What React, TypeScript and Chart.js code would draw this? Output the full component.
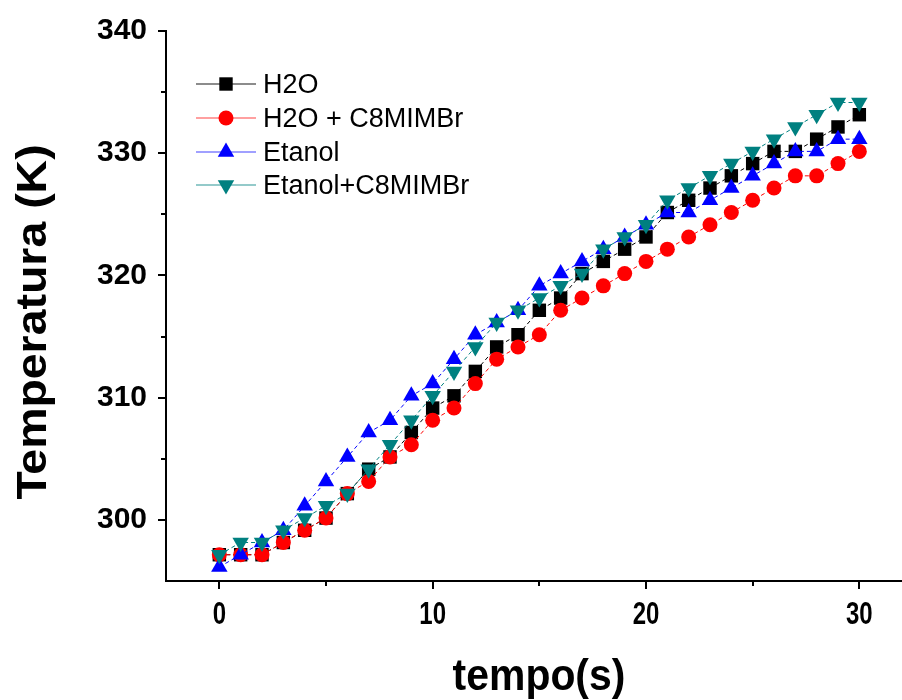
import React, { useEffect, useRef } from 'react';
import { Chart, registerables } from 'chart.js';

Chart.register(...registerables);

const tempo = [0, 1, 2, 3, 4, 5, 6, 7, 8, 9, 10, 11, 12, 13, 14, 15, 16, 17, 18, 19, 20, 21, 22, 23, 24, 25, 26, 27, 28, 29, 30];
const h2o = [297.15, 297.15, 297.15, 298.15, 299.15, 300.15, 302.15, 304.15, 305.15, 307.15, 309.15, 310.15, 312.15, 314.15, 315.15, 317.15, 318.15, 320.15, 321.15, 322.15, 323.15, 325.15, 326.15, 327.15, 328.15, 329.15, 330.15, 330.15, 331.15, 332.15, 333.15];
const h2oIL = [297.15, 297.15, 297.15, 298.15, 299.15, 300.15, 302.15, 303.15, 305.15, 306.15, 308.15, 309.15, 311.15, 313.15, 314.15, 315.15, 317.15, 318.15, 319.15, 320.15, 321.15, 322.15, 323.15, 324.15, 325.15, 326.15, 327.15, 328.15, 328.15, 329.15, 330.15];
const etanol = [296.15, 297.15, 298.15, 299.15, 301.15, 303.15, 305.15, 307.15, 308.15, 310.15, 311.15, 313.15, 315.15, 316.15, 317.15, 319.15, 320.15, 321.15, 322.15, 323.15, 324.15, 325.15, 325.15, 326.15, 327.15, 328.15, 329.15, 330.15, 330.15, 331.15, 331.15];
const etanolIL = [297.15, 298.15, 298.15, 299.15, 300.15, 301.15, 302.15, 304.15, 306.15, 308.15, 310.15, 312.15, 314.15, 316.15, 317.15, 318.15, 319.15, 320.15, 322.15, 323.15, 324.15, 326.15, 327.15, 328.15, 329.15, 330.15, 331.15, 332.15, 333.15, 334.15, 334.15];

const xMajor = [0, 10, 20, 30];
const xMinor = [5, 15, 25];
const yMajor = [300, 310, 320, 330, 340];
const yMinor = [305, 315, 325, 335];

const seriesNames = ['H2O', 'H2O + C8MIMBr', 'Etanol', 'Etanol+C8MIMBr'];
const seriesColors = ['#000000', '#ff0000', '#0000ff', '#008080'];
const legendLineColors = ['#666666', '#ff8080', '#8080ff', '#70b8b8'];
const seriesStyles = ['rect', 'circle', 'triangle', 'triangle'];

const FONT = "'Liberation Sans', Arial, sans-serif";

function drawMarker(ctx: CanvasRenderingContext2D, kind: number, x: number, y: number, color: string) {
  ctx.save();
  ctx.fillStyle = color;
  ctx.beginPath();
  if (kind === 0) {
    ctx.rect(x - 6.7, y - 6.7, 13.4, 13.4);
  } else if (kind === 1) {
    ctx.arc(x, y, 7.5, 0, Math.PI * 2);
  } else if (kind === 2) {
    const r = 9.5;
    ctx.moveTo(x, y - r);
    ctx.lineTo(x + r * 0.866, y + r * 0.5);
    ctx.lineTo(x - r * 0.866, y + r * 0.5);
    ctx.closePath();
  } else {
    const r = 9.5;
    ctx.moveTo(x, y + r);
    ctx.lineTo(x + r * 0.866, y - r * 0.5);
    ctx.lineTo(x - r * 0.866, y - r * 0.5);
    ctx.closePath();
  }
  ctx.fill();
  ctx.restore();
}

const decorPlugin = {
  id: 'decor',
  afterDraw(chart: any) {
    const ctx: CanvasRenderingContext2D = chart.ctx;
    const xs = chart.scales.x;
    const ys = chart.scales.y;
    const area = chart.chartArea;
    ctx.save();
    ctx.strokeStyle = '#000';
    ctx.lineWidth = 2;
    const drawX = (v: number, len: number) => {
      const px = Math.round(xs.getPixelForValue(v));
      ctx.beginPath();
      ctx.moveTo(px, area.bottom);
      ctx.lineTo(px, area.bottom + len);
      ctx.stroke();
    };
    xMajor.forEach((v) => drawX(v, 8));
    xMinor.forEach((v) => drawX(v, 5));
    const drawY = (v: number, len: number) => {
      const py = Math.round(ys.getPixelForValue(v));
      ctx.beginPath();
      ctx.moveTo(area.left, py);
      ctx.lineTo(area.left - len, py);
      ctx.stroke();
    };
    yMajor.forEach((v) => drawY(v, 8));
    yMinor.forEach((v) => drawY(v, 5));

    ctx.fillStyle = '#000';
    ctx.font = `bold 30px ${FONT}`;
    ctx.textAlign = 'center';
    ctx.textBaseline = 'alphabetic';
    xMajor.forEach((v) => {
      const px = xs.getPixelForValue(v);
      ctx.save();
      ctx.translate(px, 624);
      ctx.scale(0.8, 1.03);
      ctx.fillText(String(v), 0, 0);
      ctx.restore();
    });

    ctx.save();
    ctx.translate(539, 690);
    ctx.scale(0.93, 1);
    ctx.font = `bold 44px ${FONT}`;
    ctx.fillText('tempo(s)', 0, 0);
    ctx.restore();

    ctx.save();
    ctx.translate(46, 322);
    ctx.rotate(-Math.PI / 2);
    ctx.scale(1.08, 1);
    ctx.font = `bold 43px ${FONT}`;
    ctx.fillText('Temperatura (K)', 0, 0);
    ctx.restore();

    const rows = [84, 118, 152, 185];
    ctx.font = `27px ${FONT}`;
    ctx.textAlign = 'left';
    rows.forEach((ry, i) => {
      ctx.strokeStyle = legendLineColors[i];
      ctx.lineWidth = 1.5;
      ctx.beginPath();
      ctx.moveTo(196, ry);
      ctx.lineTo(256, ry);
      ctx.stroke();
      drawMarker(ctx, i, 226, ry, seriesColors[i]);
      ctx.fillStyle = '#000';
      ctx.fillText(seriesNames[i], 263, ry + 9);
    });
    ctx.restore();
  },
};

export default function App() {
  const ref = useRef<HTMLCanvasElement | null>(null);
  useEffect(() => {
    if (!ref.current) return;
    const all = [h2o, h2oIL, etanol, etanolIL];
    const datasets = all.map((vals, i) => ({
      label: seriesNames[i],
      data: tempo.map((t, j) => ({ x: t, y: vals[j] })),
      borderColor: seriesColors[i],
      backgroundColor: seriesColors[i],
      borderWidth: 1,
      borderDash: [4, 3],
      pointStyle: seriesStyles[i],
      pointRadius: i === 1 ? 7.5 : 9.5,
      pointRotation: i === 3 ? 180 : 0,
      pointBorderWidth: 0,
      pointBackgroundColor: seriesColors[i],
      pointBorderColor: seriesColors[i],
      tension: 0,
      showLine: true,
      order: 4 - i,
      clip: false as any,
    }));
    const chart = new Chart(ref.current, {
      type: 'line',
      data: { datasets },
      options: {
        animation: false,
        responsive: false,
        maintainAspectRatio: false,
        layout: { autoPadding: false, padding: { top: 31, right: 0, left: 0, bottom: 0 } },
        plugins: { legend: { display: false }, tooltip: { enabled: false }, title: { display: false } },
        scales: {
          x: {
            type: 'linear',
            min: -2.5,
            max: 32,
            afterBuildTicks: (s: any) => {
              s.ticks = xMajor.map((v) => ({ value: v }));
            },
            afterFit: (s: any) => {
              s.height = 119;
              s.paddingLeft = 0;
              s.paddingRight = 0;
              s.paddingTop = 0;
              s.paddingBottom = 0;
            },
            grid: { display: false, drawTicks: false },
            border: { display: true, color: '#000', width: 2 },
            ticks: { display: false },
          },
          y: {
            type: 'linear',
            min: 295,
            max: 340,
            afterBuildTicks: (s: any) => {
              s.ticks = yMajor.map((v) => ({ value: v }));
            },
            afterFit: (s: any) => {
              s.width = 166;
              s.paddingTop = 0;
              s.paddingBottom = 0;
              s.paddingLeft = 0;
              s.paddingRight = 0;
            },
            grid: { display: false, drawTicks: false },
            border: { display: true, color: '#000', width: 2 },
            ticks: {
              color: '#000',
              padding: 19,
              font: { family: FONT, size: 30, weight: 'bold' },
              callback: (v: any) => String(v),
            },
          },
        },
      },
      plugins: [decorPlugin],
    });
    return () => chart.destroy();
  }, []);
  return (
    <div style={{ position: 'absolute', left: 0, top: 0, width: 902, height: 700, background: '#fff' }}>
      <canvas ref={ref} width={902} height={700} style={{ width: 902, height: 700, display: 'block' }} />
    </div>
  );
}
